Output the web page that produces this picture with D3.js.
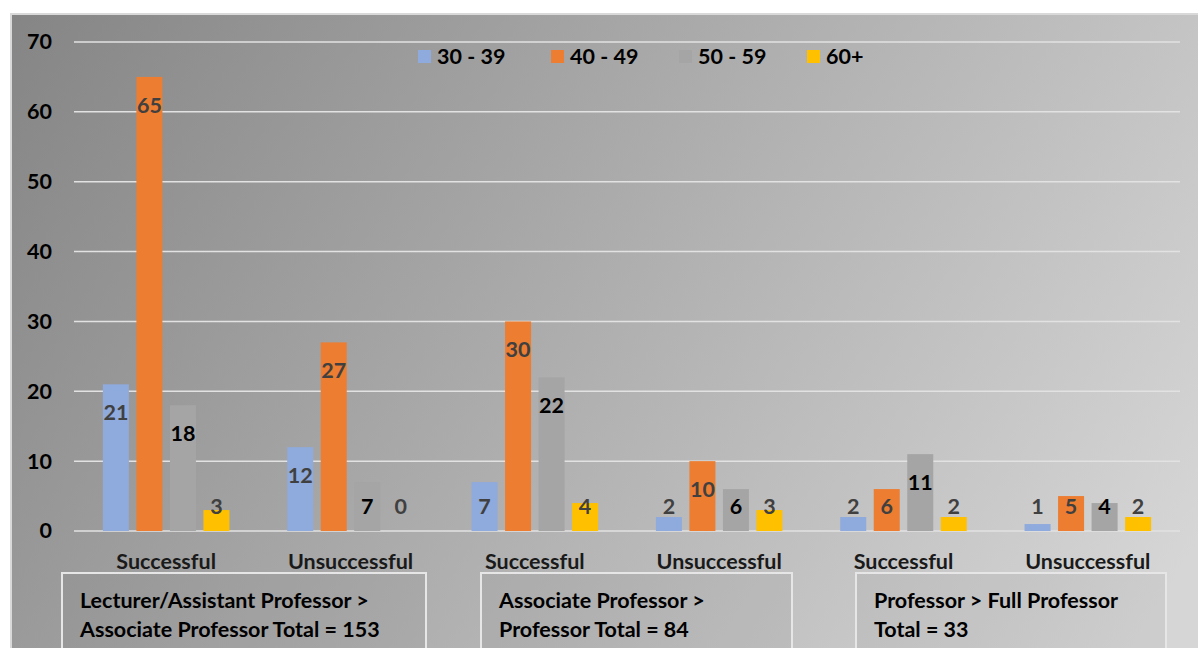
<!DOCTYPE html>
<html lang="en">
<head>
<meta charset="utf-8">
<title>Promotion outcomes by age</title>
<script src="https://cdn.jsdelivr.net/npm/d3@7"></script>
<style>
  body { margin: 0; background: #ffffff; }
  svg text { font-family: Lato, "Open Sans", sans-serif; font-weight: bold; }
</style>
</head>
<body>
<script>
// data
var categories = ["Successful", "Unsuccessful", "Successful", "Unsuccessful", "Successful", "Unsuccessful"];
var series = ["30 - 39", "40 - 49", "50 - 59", "60+"];
var age30 = [21, 12, 7, 2, 2, 1];
var age40 = [65, 27, 30, 10, 6, 5];
var age50 = [18, 7, 22, 6, 11, 4];
var age60 = [3, 0, 4, 3, 2, 2];
var yTicks = [0, 10, 20, 30, 40, 50, 60, 70];
var groupBoxes = [
  ["Lecturer/Assistant Professor >", "Associate Professor Total = 153"],
  ["Associate Professor >", "Professor Total = 84"],
  ["Professor > Full Professor", "Total = 33"]
];

var colors = ["#8faadc", "#ed7d31", "#a5a5a5", "#ffc000"];
var labelColors = ["#404040", "#404040", "#000000", "#404040"];
var values = [age30, age40, age50, age60];
var fs = 21.5;

var W = 1198, H = 648;
var svg = d3.select("body").append("svg").attr("width", W).attr("height", H);

// background gradient
var defs = svg.append("defs");
var grad = defs.append("linearGradient").attr("id", "bg")
  .attr("gradientUnits", "userSpaceOnUse")
  .attr("x1", 10).attr("y1", 13).attr("x2", 1100).attr("y2", 700);
grad.append("stop").attr("offset", "0%").attr("stop-color", "#858585");
grad.append("stop").attr("offset", "100%").attr("stop-color", "#d6d6d6");

svg.append("rect")
  .attr("x", 11).attr("y", 14).attr("width", W - 10).attr("height", H)
  .attr("fill", "url(#bg)")
  .attr("stroke", "#d9d9d9").attr("stroke-width", 2);

var left = 74, right = 1180;
var x0 = d3.scaleBand().domain(d3.range(categories.length)).range([left, right]);
var x1 = d3.scaleBand().domain(d3.range(series.length)).range([0, x0.bandwidth()])
  .paddingInner(0.224).paddingOuter(0.862);
var y = d3.scaleLinear().domain([0, 70]).range([531, 42]);

// gridlines
svg.append("g").selectAll("line").data(yTicks).enter().append("line")
  .attr("x1", left).attr("x2", right)
  .attr("y1", function(d) { return y(d); })
  .attr("y2", function(d) { return y(d); })
  .attr("stroke", "#e2e2e2").attr("stroke-width", 1.5);

// y axis
var yAxis = d3.axisLeft(y).tickValues(yTicks).tickSize(0).tickPadding(0);
var ya = svg.append("g").attr("transform", "translate(52,0)").call(yAxis);
ya.select(".domain").remove();
ya.selectAll("text").attr("font-size", fs).attr("fill", "#000").attr("font-family", "Lato, sans-serif");

// bars
series.forEach(function(s, si) {
  var g = svg.append("g");
  g.selectAll("rect").data(values[si]).enter().append("rect")
    .attr("x", function(d, i) { return x0(i) + x1(si); })
    .attr("y", function(d) { return y(d); })
    .attr("width", x1.bandwidth())
    .attr("height", function(d) { return y(0) - y(d); })
    .attr("fill", colors[si]);
  g.selectAll("text").data(values[si]).enter().append("text")
    .attr("x", function(d, i) { return x0(i) + x1(si) + x1.bandwidth() / 2; })
    .attr("y", function(d) { return Math.min(y(d) + 28, y(0) - 25); })
    .attr("dy", "0.36em")
    .attr("text-anchor", "middle")
    .attr("font-size", fs)
    .attr("fill", labelColors[si])
    .text(function(d) { return d; });
});

// category labels
var xAxis = d3.axisBottom(x0).tickSize(0).tickPadding(0).tickFormat(function(i) { return categories[i]; });
var xa = svg.append("g").attr("transform", "translate(0,554)").call(xAxis);
xa.select(".domain").remove();
xa.selectAll("text").attr("font-size", fs).attr("fill", "#1a1a1a").attr("font-family", "Lato, sans-serif");

// legend
var legendX = [418, 551, 679, 807];
var lg = svg.append("g").selectAll("g").data(series).enter().append("g")
  .attr("transform", function(d, i) { return "translate(" + legendX[i] + ",50)"; });
lg.append("rect").attr("width", 13).attr("height", 13).attr("fill", function(d, i) { return colors[i]; });
lg.append("text").attr("x", 19).attr("y", 6.5).attr("dy", "0.36em")
  .attr("font-size", fs).attr("fill", "#000").text(function(d) { return d; });

// group boxes
var boxX = [62, 481, 856];
var boxW = [364, 311, 310];
var bx = svg.append("g").selectAll("g").data(groupBoxes).enter().append("g")
  .attr("transform", function(d, i) { return "translate(" + boxX[i] + ",573)"; });
bx.append("rect").attr("width", function(d, i) { return boxW[i]; }).attr("height", 90)
  .attr("fill", "rgba(100,100,100,0.08)")
  .attr("stroke", "#e6e6e6").attr("stroke-width", 2);
bx.append("text").attr("x", 18).attr("y", 27).attr("dy", "0.36em")
  .attr("font-size", fs).attr("fill", "#000").text(function(d) { return d[0]; });
bx.append("text").attr("x", 18).attr("y", 56).attr("dy", "0.36em")
  .attr("font-size", fs).attr("fill", "#000").text(function(d) { return d[1]; });
</script>
</body>
</html>
